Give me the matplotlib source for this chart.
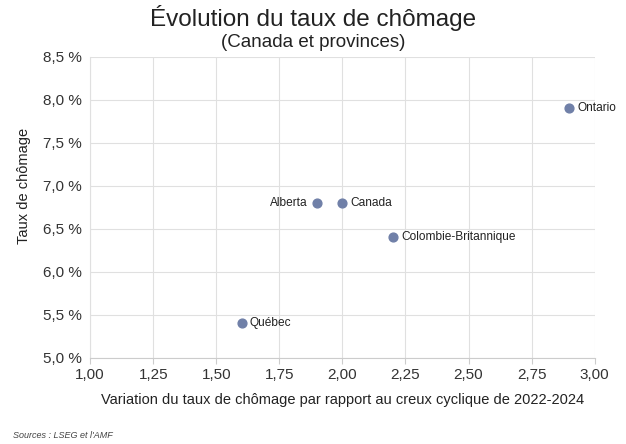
import matplotlib.pyplot as plt
from matplotlib.ticker import FuncFormatter

plt.rcParams['font.family'] = ['Liberation Sans', 'DejaVu Sans']

# data
regions = ["Ontario", "Alberta", "Canada", "Colombie-Britannique", "Québec"]
variation = [2.9, 1.9, 2.0, 2.2, 1.6]
chomage = [7.9, 6.8, 6.8, 6.4, 5.4]
label_side = ["right", "left", "right", "right", "right"]

fig = plt.figure(figsize=(6.26, 4.44), dpi=100)
ax = fig.add_axes([0.144, 0.194, 0.806, 0.678])

ax.scatter(variation, chomage, s=40, color="#7080a8", zorder=3)
for name, x, y, side in zip(regions, variation, chomage, label_side):
    if side == "right":
        ax.annotate(name, (x, y), xytext=(6, 0), textcoords="offset points",
                    ha="left", va="center", fontsize=8.6, color="#222222")
    else:
        ax.annotate(name, (x, y), xytext=(-7, 0), textcoords="offset points",
                    ha="right", va="center", fontsize=8.6, color="#222222")

ax.set_xlim(1.0, 3.0)
ax.set_ylim(5.0, 8.5)
ax.set_xticks([1.0, 1.25, 1.5, 1.75, 2.0, 2.25, 2.5, 2.75, 3.0])
ax.set_yticks([5.0, 5.5, 6.0, 6.5, 7.0, 7.5, 8.0, 8.5])
ax.xaxis.set_major_formatter(FuncFormatter(lambda v, p: f"{v:.2f}".replace(".", ",")))
ax.yaxis.set_major_formatter(FuncFormatter(lambda v, p: f"{v:.1f} %".replace(".", ",")))
ax.grid(True, color="#e0e0e0", linewidth=0.8)
ax.set_axisbelow(True)
for s in ["top", "right"]:
    ax.spines[s].set_visible(False)
ax.spines["left"].set_color("#e0e0e0")
ax.spines["bottom"].set_color("#cccccc")
ax.tick_params(axis="y", length=0, labelsize=11, colors="#333333", pad=6)
ax.tick_params(axis="x", length=4, color="#cccccc", labelsize=11, colors="#333333")

ax.set_xlabel("Variation du taux de chômage par rapport au creux cyclique de 2022-2024",
              fontsize=10.5, color="#222222", labelpad=8)
ax.set_ylabel("Taux de chômage", fontsize=10.5, color="#222222")
ax.yaxis.set_label_coords(-0.118, 0.57)

fig.text(0.5, 0.96, "Évolution du taux de chômage", ha="center", va="center",
         fontsize=17.5, color="#222222")
fig.text(0.5, 0.905, "(Canada et provinces)", ha="center", va="center",
         fontsize=13.5, color="#222222")
fig.text(0.02, 0.02, "Sources : LSEG et l'AMF", ha="left", va="center",
         fontsize=6.5, style="italic", color="#444444")

fig.savefig("out.png", dpi=100)
